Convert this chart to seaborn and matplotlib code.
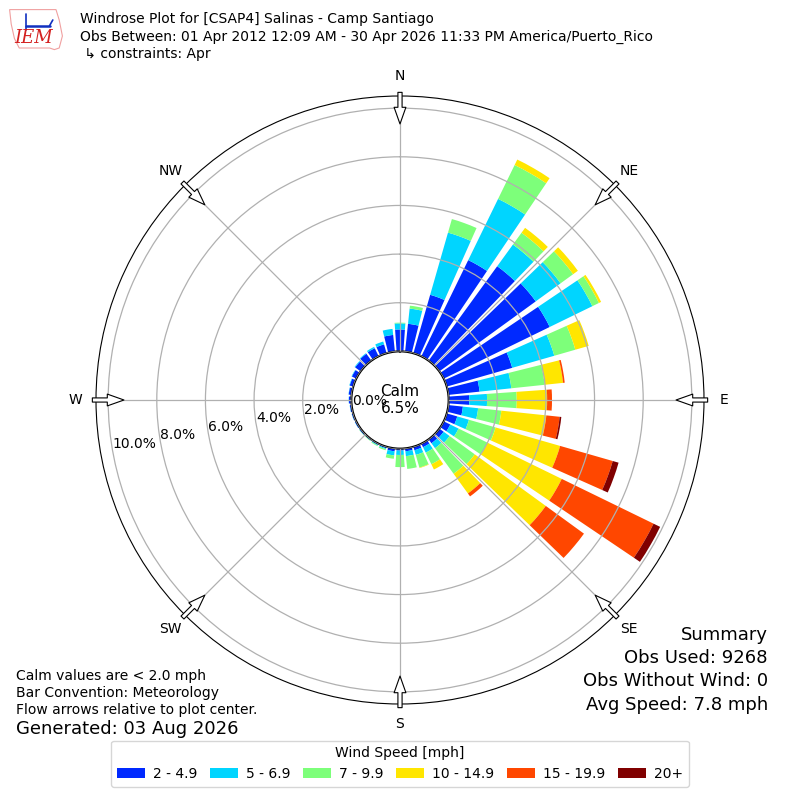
import numpy as np
import matplotlib
matplotlib.use("Agg")
import matplotlib.pyplot as plt
from matplotlib.patches import Polygon
from matplotlib.lines import Line2D
import seaborn as sns

sns.set_style("white")
plt.rcParams['font.family'] = ['DejaVu Sans']
plt.rcParams['text.color'] = 'black'
plt.rcParams['xtick.color'] = 'black'
plt.rcParams['ytick.color'] = 'black'

# wind direction bins (deg, meteorological)
directions = np.arange(0, 360, 10)
speed_bins = ['2 - 4.9', '5 - 6.9', '7 - 9.9', '10 - 14.9', '15 - 19.9', '20+']

# frequency (%) per speed bin, 36 directions starting at N
spd_2_5 = [0.90, 1.15, 2.50, 4.40, 4.80, 4.90, 4.85, 2.80, 1.29, 0.85, 0.60, 0.45,
           0.30, 0.22, 0.20, 0.16, 0.15, 0.12, 0.08, 0.12, 0.06, 0.05, 0.05, 0.06,
           0.06, 0.06, 0.07, 0.10, 0.12, 0.15, 0.20, 0.28, 0.35, 0.37, 0.38, 0.69]
spd_5_7 = [0.25, 0.63, 2.66, 2.80, 1.10, 1.26, 1.95, 1.80, 1.31, 0.73, 0.63, 0.50,
           0.38, 0.30, 0.25, 0.25, 0.20, 0.20, 0.18, 0.17, 0.04, 0.03, 0.01, 0.01,
           0.01, 0.01, 0.01, 0.01, 0.01, 0.02, 0.02, 0.03, 0.03, 0.06, 0.12, 0.25]
spd_7_10 = [0.03, 0.12, 0.58, 1.55, 0.60, 0.64, 0.30, 0.90, 1.38, 1.22, 0.96, 1.14,
            1.32, 1.28, 1.30, 0.53, 0.54, 0.53, 0.50, 0.14, 0.05, 0.03, 0.02, 0.01,
            0, 0, 0, 0, 0, 0, 0, 0, 0, 0, 0, 0]
spd_10_15 = [0, 0, 0, 0.25, 0.25, 0.24, 0.10, 0.57, 0.76, 1.25, 1.86, 2.76,
             3.40, 3.61, 1.00, 0.24, 0.02, 0, 0, 0, 0, 0, 0, 0,
             0, 0, 0, 0, 0, 0, 0, 0, 0, 0, 0, 0]
spd_15_20 = [0, 0, 0, 0, 0, 0, 0, 0, 0.07, 0.20, 0.55, 2.25,
             4.20, 1.94, 0.15, 0, 0, 0, 0, 0, 0, 0, 0, 0,
             0, 0, 0, 0, 0, 0, 0, 0, 0, 0, 0, 0]
spd_20p = [0, 0, 0, 0, 0, 0, 0, 0, 0, 0, 0.07, 0.25,
           0.30, 0, 0, 0, 0, 0, 0, 0, 0, 0, 0, 0,
           0, 0, 0, 0, 0, 0, 0, 0, 0, 0, 0, 0]
freqs = [spd_2_5, spd_5_7, spd_7_10, spd_10_15, spd_15_20, spd_20p]

calm_pct = 6.5
ring_levels = [0, 2, 4, 6, 8, 10]
compass = ['N', 'NE', 'E', 'SE', 'S', 'SW', 'W', 'NW']

fig = plt.figure(figsize=(8, 8), dpi=100)
ax = fig.add_axes([0.12, 0.12, 0.76, 0.76], projection='polar')
ax.set_theta_zero_location('N')
ax.set_theta_direction(-1)
ax.set_rorigin(-2.0)
ax.set_ylim(0, 10.5)

colors = plt.get_cmap('jet')(np.arange(1, 7) / 6)
theta = np.deg2rad(directions)
bottom = np.zeros(len(directions))
for label, vals, c in zip(speed_bins, freqs, colors):
    vals = np.array(vals)
    ax.bar(theta, vals, width=np.deg2rad(8), bottom=bottom, color=c,
           edgecolor='none', label=label, zorder=2)
    bottom = bottom + vals

ax.set_thetagrids(np.arange(0, 360, 45), compass, fontsize=10)
ax.set_rgrids(ring_levels, ['%.1f%%' % r for r in ring_levels], angle=260, fontsize=10)
ax.tick_params(axis='x', pad=4)
ax.grid(True, color='#b0b0b0', lw=0.9)
ax.set_axisbelow(False)
ax.spines['polar'].set_color('black')
ax.spines['inner'].set_color('black')
ax.spines['inner'].set_linewidth(1.5)

# calm circle label
ax.text(0.5, 0.5, 'Calm\n%.1f%%' % calm_pct, transform=ax.transAxes,
        ha='center', va='center', fontsize=11, zorder=5)

# flow arrows at compass points
for ang in np.arange(0, 360, 45):
    ax.annotate('', xy=(np.deg2rad(ang), 9.35), xytext=(np.deg2rad(ang), 10.65),
                arrowprops=dict(arrowstyle='simple,head_length=1.2,head_width=0.85,tail_width=0.3',
                                fc='white', ec='black', lw=0.8, shrinkA=0, shrinkB=0),
                annotation_clip=False, zorder=6)

# header with a rough IEM logo
logo = Polygon([[0.012, 0.988], [0.070, 0.988], [0.074, 0.975], [0.078, 0.955],
                [0.074, 0.94], [0.068, 0.938], [0.062, 0.94], [0.024, 0.94],
                [0.018, 0.952], [0.014, 0.97]], closed=True, transform=fig.transFigure,
               fc='none', ec='#f0a0a0', lw=0.8)
fig.patches.append(logo)
fig.add_artist(Line2D([0.032, 0.062], [0.968, 0.968], color='#1030c0', lw=1.8))
fig.add_artist(Line2D([0.032, 0.032], [0.962, 0.982], color='#1030c0', lw=1.2))
fig.add_artist(Line2D([0.062, 0.066], [0.968, 0.975], color='#1030c0', lw=1.2))
fig.text(0.042, 0.952, 'IEM', color='#d42020', fontsize=13, family='DejaVu Serif',
         style='italic', ha='center', va='center')

fig.text(0.1, 0.976, 'Windrose Plot for [CSAP4] Salinas - Camp Santiago', fontsize=10, va='center')
fig.text(0.1, 0.954, 'Obs Between: 01 Apr 2012 12:09 AM - 30 Apr 2026 11:33 PM America/Puerto_Rico',
         fontsize=10, va='center')
fig.text(0.1, 0.9325, ' \u21b3 constraints: Apr', fontsize=10, va='center')

# footer notes
fig.text(0.02, 0.155, 'Calm values are < 2.0 mph', fontsize=10, va='center')
fig.text(0.02, 0.134, 'Bar Convention: Meteorology', fontsize=10, va='center')
fig.text(0.02, 0.1125, 'Flow arrows relative to plot center.', fontsize=10, va='center')
fig.text(0.02, 0.089, 'Generated: 03 Aug 2026', fontsize=13, va='center')

fig.text(0.96, 0.206, 'Summary', fontsize=13, ha='right', va='center')
fig.text(0.96, 0.1775, 'Obs Used: 9268', fontsize=13, ha='right', va='center')
fig.text(0.96, 0.149, 'Obs Without Wind: 0', fontsize=13, ha='right', va='center')
fig.text(0.96, 0.119, 'Avg Speed: 7.8 mph', fontsize=13, ha='right', va='center')

handles, labels = ax.get_legend_handles_labels()
fig.legend(handles, labels, loc='lower center', bbox_to_anchor=(0.5, 0.008), ncol=6,
           title='Wind Speed [mph]', fontsize=10, title_fontsize=10, handlelength=2.0,
           handleheight=0.7, handletextpad=0.6, columnspacing=0.9, frameon=True)

fig.savefig('out.png', dpi=100)
